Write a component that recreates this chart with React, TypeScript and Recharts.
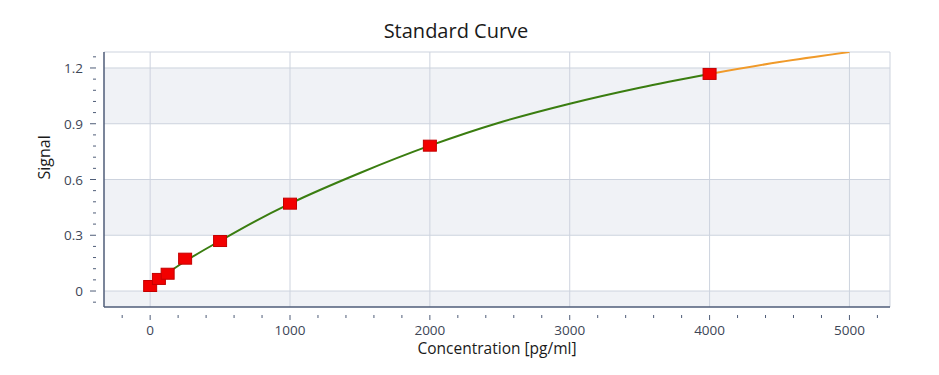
import { ComposedChart, Line, Scatter, XAxis, YAxis, ReferenceArea, ReferenceLine } from 'recharts'

// measured standards
const stdConc = [0, 62.5, 125, 250, 500, 1000, 2000, 4000]
const stdSignal = [0.027, 0.065, 0.093, 0.174, 0.269, 0.47, 0.782, 1.168]

// fitted curve
const fitConc = [0, 250, 500, 750, 1000, 1500, 2000, 2500, 3000, 3500, 4000]
const fitSignal = [0.03, 0.16, 0.27, 0.375, 0.47, 0.635, 0.782, 0.907, 1.008, 1.094, 1.168]

// extrapolated part
const extConc = [4000, 4500, 5000]
const extSignal = [1.168, 1.232, 1.286]

const xMajor = [0, 1000, 2000, 3000, 4000, 5000]
const xMinor = [-200, 200, 400, 600, 800, 1200, 1400, 1600, 1800, 2200, 2400, 2600, 2800, 3200, 3400, 3600, 3800, 4200, 4400, 4600, 4800, 5200]
const yMajor = [0, 0.3, 0.6, 0.9, 1.2]
const yMinor = [-0.06, 0.06, 0.12, 0.18, 0.24, 0.36, 0.42, 0.48, 0.54, 0.66, 0.72, 0.78, 0.84, 0.96, 1.02, 1.08, 1.14, 1.26]
const bands = [[-0.09, 0], [0.3, 0.6], [0.9, 1.2]]

const stdData = stdConc.map((c, i) => ({ x: c, y: stdSignal[i] }))
const fitData = fitConc.map((c, i) => ({ x: c, y: fitSignal[i] }))
const extData = extConc.map((c, i) => ({ x: c, y: extSignal[i] }))

const axisColor = '#4f5d78'
const gridColor = '#cdd3de'
const textColor = '#3d4656'
const font = '"Open Sans", sans-serif'

const XTick = ({ x, y, payload }: any) => {
    const major = xMajor.includes(payload.value)
    return (
        <g>
            <line x1={x} x2={x} y1={y} y2={y + (major ? 5 : 3)} stroke={axisColor} strokeWidth={1} />
            {major && (
                <text x={x} y={y + 20} textAnchor="middle" fill={textColor} fontSize={13.5} fontFamily={font}>
                    {payload.value}
                </text>
            )}
        </g>
    )
}

const YTick = ({ x, y, payload }: any) => {
    const major = yMajor.includes(payload.value)
    return (
        <g>
            <line x1={x - (major ? 6 : 3)} x2={x} y1={y} y2={y} stroke={axisColor} strokeWidth={1} />
            {major && (
                <text x={x - 13} y={y + 5} textAnchor="end" fill={textColor} fontSize={13.5} fontFamily={font}>
                    {payload.value}
                </text>
            )}
        </g>
    )
}

const Marker = ({ cx, cy }: any) => (
    <rect x={cx - 6.5} y={cy - 5.5} width={13} height={11} fill="#f20000" stroke="#c40000" strokeWidth={1} />
)

export default function App() {
    return (
        <div style={{ position: 'absolute', left: 0, top: 0, width: 939, height: 375, background: '#fff' }}>
            <div style={{ position: 'absolute', left: 0, width: 912, top: 17, textAlign: 'center', fontFamily: font, fontSize: 20, color: '#1a1a1a' }}>
                Standard Curve
            </div>
            <ComposedChart width={939} height={375} margin={{ top: 52, right: 49, bottom: 0, left: 0 }}>
                {bands.map((b, i) => (
                    <ReferenceArea key={i} y1={b[0]} y2={b[1]} fill="#f0f2f6" fillOpacity={1} stroke="none" ifOverflow="hidden" />
                ))}
                {xMajor.map((v) => (
                    <ReferenceLine key={'x' + v} x={v} stroke={gridColor} strokeWidth={1} />
                ))}
                {yMajor.map((v) => (
                    <ReferenceLine key={'y' + v} y={v} stroke={gridColor} strokeWidth={1} />
                ))}
                <ReferenceLine y={1.286} stroke={gridColor} strokeWidth={1} ifOverflow="extendDomain" />
                <ReferenceLine x={5290} stroke={gridColor} strokeWidth={1} ifOverflow="extendDomain" />
                <XAxis
                    type="number"
                    dataKey="x"
                    domain={[-330, 5290]}
                    allowDataOverflow
                    ticks={[...xMajor, ...xMinor].sort((a, b) => a - b)}
                    interval={0}
                    tick={<XTick />}
                    tickLine={false}
                    axisLine={{ stroke: axisColor, strokeWidth: 1.5 }}
                    height={68}
                    label={{ value: 'Concentration [pg/ml]', position: 'insideBottom', offset: 21, fill: '#1a1a1a', fontSize: 15.5, fontFamily: font }}
                />
                <YAxis
                    type="number"
                    dataKey="y"
                    domain={[-0.086, 1.286]}
                    allowDataOverflow
                    ticks={[...yMajor, ...yMinor].sort((a, b) => a - b)}
                    interval={0}
                    tick={<YTick />}
                    tickLine={false}
                    axisLine={{ stroke: axisColor, strokeWidth: 1.5 }}
                    width={104}
                    label={{ value: 'Signal', angle: -90, position: 'insideLeft', offset: 44, fill: '#1a1a1a', fontSize: 16, fontFamily: font }}
                />
                <Line data={fitData} dataKey="y" type="monotone" stroke="#3a7d10" strokeWidth={2} dot={false} isAnimationActive={false} />
                <Line data={extData} dataKey="y" type="monotone" stroke="#f09a2a" strokeWidth={2} dot={false} isAnimationActive={false} />
                <Scatter data={stdData} dataKey="y" shape={<Marker />} isAnimationActive={false} />
            </ComposedChart>
        </div>
    )
}
